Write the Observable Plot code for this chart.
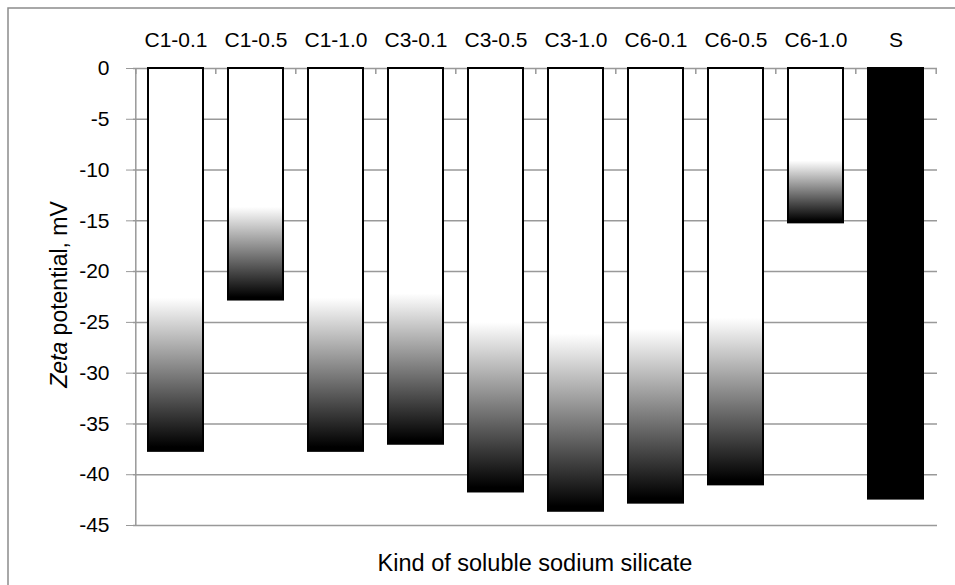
<!DOCTYPE html>
<html>
<head>
<meta charset="utf-8">
<script src="https://cdn.jsdelivr.net/npm/d3@7"></script>
<script src="https://cdn.jsdelivr.net/npm/@observablehq/plot@0.6"></script>
<style>
  html, body { margin: 0; padding: 0; background: #fff; }
  #chart svg { display: block; }
  #chart svg text { font-size: 21px; }
</style>
</head>
<body>
<div id="chart"></div>
<script>
// Zeta potential of the silicate samples (mV)
const categories = ["C1-0.1", "C1-0.5", "C1-1.0", "C3-0.1", "C3-0.5", "C3-1.0", "C6-0.1", "C6-0.5", "C6-1.0", "S"];
const zeta = [-37.7, -22.8, -37.7, -37.0, -41.7, -43.6, -42.8, -41.0, -15.2, -42.4];
const yTicks = [0, -5, -10, -15, -20, -25, -30, -35, -40, -45];
const xTitle = "Kind of soluble sodium silicate";
const yTitleItalic = "Zeta";
const yTitleRest = " potential, mV";

const data = categories.map((c, i) => ({cat: c, v: zeta[i]}));
const gradData = data.filter(d => d.cat !== "S");
const solidData = data.filter(d => d.cat === "S");

const W = 955, H = 585;
const ML = 133, MR = 18, MT = 68, MB = 60;
const step = (W - ML - MR) / categories.length;
const grid = "#999";

const chart = Plot.plot({
  width: W,
  height: H,
  marginLeft: ML,
  marginRight: MR,
  marginTop: MT,
  marginBottom: MB,
  style: {fontFamily: "'Liberation Sans', Arial, sans-serif", fontSize: "21px", background: "#fff", color: "#000"},
  x: {domain: categories, paddingInner: 0.316, paddingOuter: 0.158, label: null},
  y: {domain: [-45, 0], label: null},
  marks: [
    // horizontal gridlines (0 line doubles as the category axis)
    Plot.ruleY(yTicks, {stroke: grid, strokeWidth: 1.5}),
    // value axis line
    Plot.ruleX([categories[0]], {dx: -step / 2, y1: -45, y2: 0, stroke: grid, strokeWidth: 1.5}),
    // category boundary ticks along the zero line
    Plot.ruleX(categories, {x: d => d, dx: -step / 2, y1: 0, y2: -0.6, stroke: grid, strokeWidth: 1.5}),
    Plot.ruleX([categories[categories.length - 1]], {dx: step / 2, y1: 0, y2: -0.6, stroke: grid, strokeWidth: 1.5}),
    Plot.axisY({ticks: yTicks, tickSize: 7, tickPadding: 17, tickFormat: d => String(d), stroke: grid, fill: "#000", label: null}),
    Plot.axisX({anchor: "top", tickSize: 0, tickPadding: 22, fill: "#000", label: null}),
    Plot.barY(gradData, {x: "cat", y1: 0, y2: "v", fill: "url(#zetaFade)", stroke: "#000", strokeWidth: 2}),
    Plot.barY(solidData, {x: "cat", y1: 0, y2: "v", fill: "#000", stroke: "#000", strokeWidth: 2})
  ]
});

const svg = d3.select(chart);

// white-to-black fade over the lower part of each bar
const grad = svg.insert("defs", ":first-child")
  .append("linearGradient")
  .attr("id", "zetaFade")
  .attr("x1", 0).attr("y1", 0).attr("x2", 0).attr("y2", 1);
grad.append("stop").attr("offset", 0).attr("stop-color", "#fff");
grad.append("stop").attr("offset", 0.6).attr("stop-color", "#fff");
grad.append("stop").attr("offset", 0.99).attr("stop-color", "#000");
grad.append("stop").attr("offset", 1).attr("stop-color", "#000");

// outer chart-area border
svg.append("rect")
  .attr("x", 8).attr("y", 8)
  .attr("width", W).attr("height", H)
  .attr("fill", "none").attr("stroke", "#8c8c8c").attr("stroke-width", 1.5);

// value axis title
const yt = svg.append("text")
  .attr("transform", `translate(67,${(MT + H - MB) / 2 - 2}) rotate(-90)`)
  .attr("text-anchor", "middle")
  .style("font-size", "23px")
  .attr("fill", "#000");
yt.append("tspan").attr("font-style", "italic").text(yTitleItalic);
yt.append("tspan").text(yTitleRest);

// category axis title
svg.append("text")
  .attr("x", ML + (W - ML - MR) / 2)
  .attr("y", 571)
  .attr("text-anchor", "middle")
  .style("font-size", "23.5px")
  .attr("fill", "#000")
  .text(xTitle);

document.getElementById("chart").append(chart);
</script>
</body>
</html>
